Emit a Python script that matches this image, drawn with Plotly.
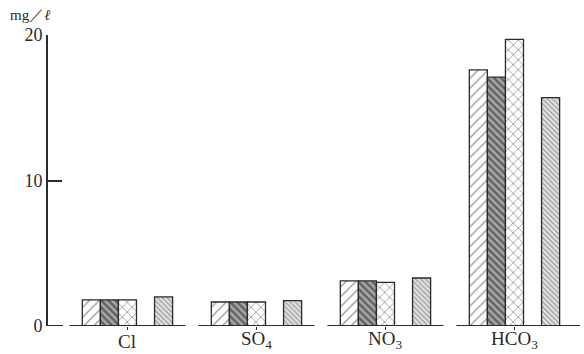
import plotly.graph_objects as go

categories = ["Cl", "SO<sub>4</sub>", "NO<sub>3</sub>", "HCO<sub>3</sub>"]
series_a = [1.8, 1.65, 3.1, 17.6]
series_b = [1.8, 1.65, 3.1, 17.1]
series_c = [1.8, 1.65, 3.0, 19.7]
series_d = [2.0, 1.75, 3.3, 15.7]
y_ticks = [0, 10, 20]

ink = "#2b2b2b"
W = 0.14
specs = [
    ("A", series_a, 0, dict(shape="/", size=7, solidity=0.18, fgcolor=ink, bgcolor="white")),
    ("B", series_b, 1, dict(shape="\\", size=5, solidity=0.5, fgcolor="#1e1e1e", bgcolor="#a8a8a8")),
    ("C", series_c, 2, dict(shape="x", size=7, solidity=0.22, fgcolor=ink, bgcolor="white")),
    ("D", series_d, 4, dict(shape="\\", size=3.5, solidity=0.4, fgcolor="#555555", bgcolor="#e6e6e6")),
]

fig = go.Figure()
for name, vals, slot, pat in specs:
    fig.add_trace(go.Bar(
        name=name, x=categories, y=vals,
        width=W, offset=(slot - 2.5) * W,
        marker=dict(color="white", line=dict(color=ink, width=1.3), pattern=pat),
        cliponaxis=False,
    ))

shapes = [dict(type="line", xref="x", yref="y", x0=-0.616, x1=-0.5, y0=0, y1=0,
               line=dict(color=ink, width=2))]
for i in range(len(categories)):
    right = 0.51 if i == 3 else 0.45
    shapes.append(dict(type="line", xref="x", yref="y", x0=i - 0.45, x1=i + right,
                       y0=0, y1=0, line=dict(color=ink, width=2)))

serif = "Liberation Serif"
annotations = [dict(text="mg／<i>ℓ</i>", xref="paper", yref="paper", x=-0.075, y=1.07,
                    xanchor="left", yanchor="middle", showarrow=False,
                    font=dict(family=serif, size=15, color=ink))]
for cat in categories:
    annotations.append(dict(text=cat, xref="x", yref="paper", x=cat, y=-0.095,
                            xanchor="center", yanchor="bottom", showarrow=False,
                            font=dict(family=serif, size=19, color=ink)))

fig.update_layout(
    width=584, height=354,
    margin=dict(l=48, r=4, t=35, b=28),
    paper_bgcolor="white", plot_bgcolor="white",
    barmode="overlay", showlegend=False,
    shapes=shapes,
    font=dict(family=serif, size=17, color=ink),
    xaxis=dict(type="category", range=[-0.616, 3.508], showline=False, showgrid=False,
               zeroline=False, ticks="outside", ticklen=3, tickwidth=1.3, tickcolor=ink,
               automargin=False, showticklabels=False),
    yaxis=dict(range=[0, 20], tickvals=y_ticks, showline=True, linecolor=ink, linewidth=2,
               showgrid=False, zeroline=False, ticks="inside", ticklen=14, tickwidth=1.5,
               automargin=False,
               tickcolor=ink, tickfont=dict(family=serif, size=18, color=ink)),
    annotations=annotations,
)

fig.write_html("out.html", config={"displayModeBar": False},
               post_script="document.body.style.margin='0';document.body.style.padding='0';")
